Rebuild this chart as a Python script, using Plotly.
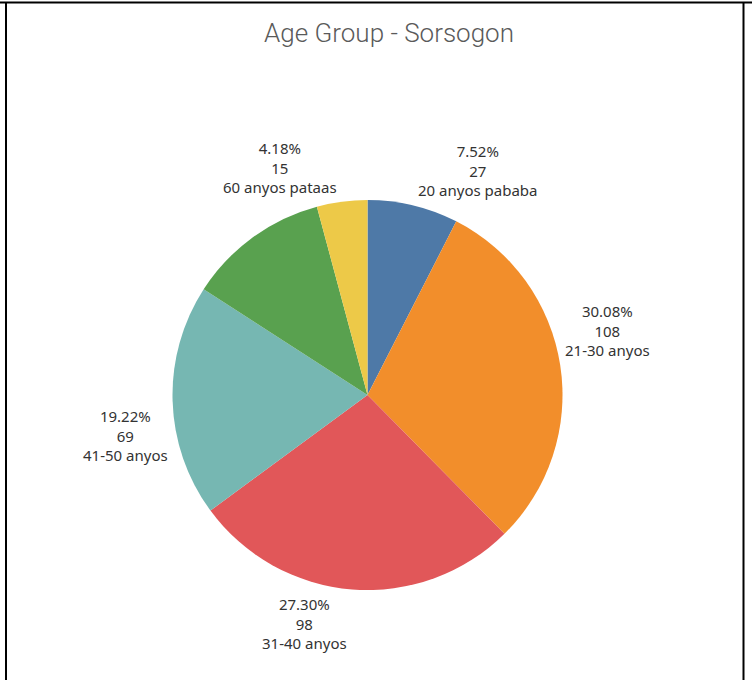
import math
import plotly.graph_objects as go

categories = ["20 anyos pababa", "21-30 anyos", "31-40 anyos", "41-50 anyos", "51-60 anyos", "60 anyos pataas"]
counts = [27, 108, 98, 69, 42, 15]
colors = ["#4E79A7", "#F28E2B", "#E15759", "#76B7B2", "#59A14F", "#EDC948"]
show_label = [True, True, True, True, False, True]

W, H = 752, 680
# pie geometry (pixels)
cx, cy, r = 367.5, 395, 195

fig = go.Figure(go.Pie(
    labels=categories,
    values=counts,
    sort=False,
    direction="clockwise",
    rotation=0,
    marker=dict(colors=colors, line=dict(width=0)),
    textinfo="none",
    hoverinfo="label+value+percent",
    showlegend=False,
    domain=dict(x=[(cx - r) / W, (cx + r) / W], y=[1 - (cy + r) / H, 1 - (cy - r) / H]),
))

# labels anchored at the slice edge, Tableau-style (corner anchoring by quadrant)
total = sum(counts)
annotations = []
cum = 0
gap = 3
for lab, v, s in zip(categories, counts, show_label):
    mid = (cum + v / 2) / total * 2 * math.pi
    cum += v
    if not s:
        continue
    ex = cx + r * math.sin(mid)
    ey = cy - r * math.cos(mid)
    right = math.sin(mid) >= 0
    top = math.cos(mid) >= 0
    px = ex + (gap if right else -gap)
    py = ey + (-gap if top else gap)
    annotations.append(dict(
        x=px / W, y=1 - py / H, xref="paper", yref="paper",
        text=f"{v / total * 100:.2f}%<br>{v}<br>{lab}",
        showarrow=False, align="center",
        xanchor="left" if right else "right",
        yanchor="bottom" if top else "top",
        font=dict(family="Noto Sans, Lato, sans-serif", size=15, color="#333333"),
    ))

fig.update_layout(
    width=W, height=H,
    margin=dict(l=0, r=0, t=0, b=0),
    paper_bgcolor="white",
    title=dict(text="Age Group - Sorsogon", x=389 / W, xanchor="center", y=1 - 33 / H, yanchor="middle",
               font=dict(family="Roboto, sans-serif", size=26, color="#5a5a5a", weight=300)),
    annotations=annotations,
    shapes=[
        dict(type="line", xref="paper", yref="paper", x0=6 / W, x1=6 / W, y0=0, y1=1 - 2 / H,
             line=dict(color="black", width=2)),
        dict(type="line", xref="paper", yref="paper", x0=743.5 / W, x1=743.5 / W, y0=0, y1=1 - 2 / H,
             line=dict(color="black", width=2)),
        dict(type="line", xref="paper", yref="paper", x0=0, x1=1, y0=1 - 2.5 / H, y1=1 - 2.5 / H,
             line=dict(color="black", width=2)),
    ],
)

fig.write_html("out.html", config={"displayModeBar": False},
               post_script="document.body.style.margin='0px';")
